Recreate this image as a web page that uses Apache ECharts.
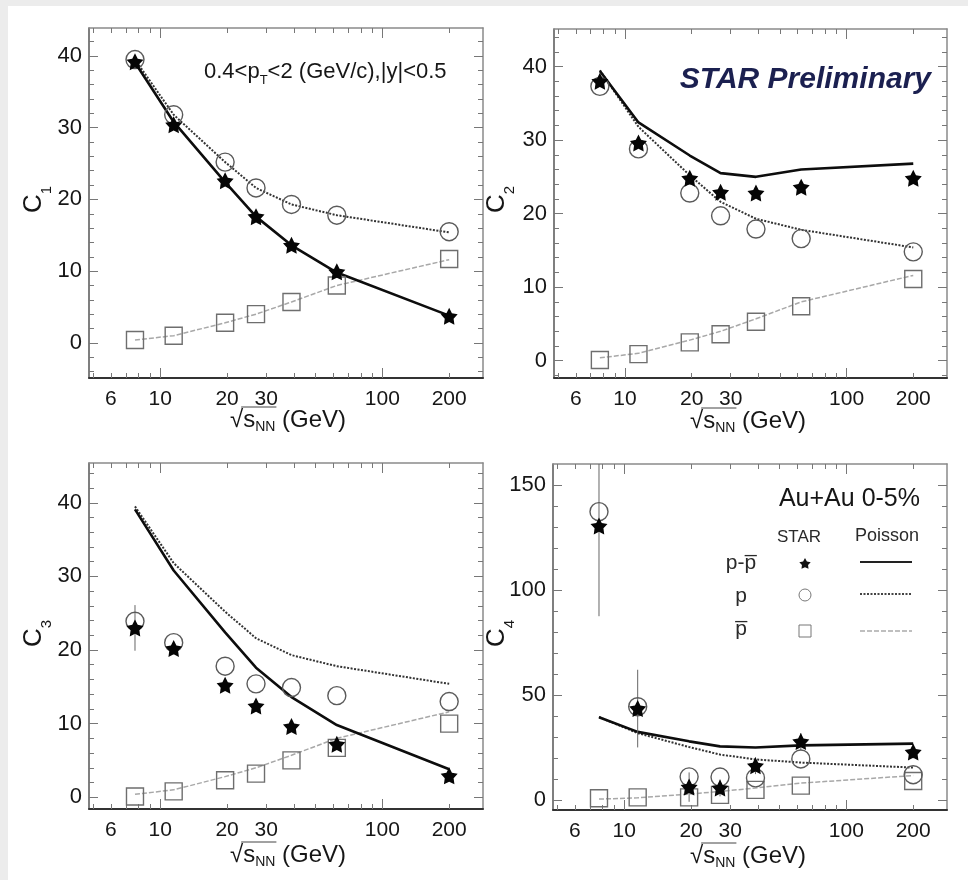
<!DOCTYPE html>
<html><head><meta charset="utf-8">
<script src="https://cdn.jsdelivr.net/npm/echarts@6/dist/echarts.min.js"></script>
<style>
html,body{margin:0;padding:0;background:#ececec;overflow:hidden;}
#card{position:absolute;left:8px;top:6px;width:960px;height:874px;background:#fff;}
#chart{position:absolute;left:0;top:0;width:968px;height:880px;}
</style></head><body>
<div id="card"></div><div id="chart"></div>
<script>
// ---------------- data ----------------
const energies = [7.7, 11.5, 19.6, 27, 39, 62.4, 200];
const xLabelValues = [6, 10, 20, 30, 100, 200];
const xMajorTickValues = [10, 100];
const xMinorTickValues = [5, 6, 7, 8, 9, 20, 30, 40, 50, 60, 70, 80, 90, 200];

const yLabelsC = [0, 10, 20, 30, 40];
const yMinorC = [-4, -2, 2, 4, 6, 8, 12, 14, 16, 18, 22, 24, 26, 28, 32, 34, 36, 38, 42, 44];
const yLabelsC4 = [0, 50, 100, 150];
const yMinorC4 = [10, 20, 30, 40, 60, 70, 80, 90, 110, 120, 130, 140];

const c1Net = [39.2, 30.4, 22.6, 17.6, 13.6, 9.9, 3.7];
const c1P = [39.5, 31.8, 25.2, 21.6, 19.3, 17.8, 15.5];
const c1Pbar = [0.4, 1.0, 2.8, 4.0, 5.7, 8.0, 11.7];

const c2Net = [38.0, 29.6, 24.8, 22.9, 22.8, 23.6, 24.8];
const c2P = [37.3, 28.8, 22.8, 19.7, 17.9, 16.6, 14.8];
const c2Pbar = [0.1, 0.9, 2.5, 3.6, 5.3, 7.4, 11.1];

const c3Net = [23.0, 20.2, 15.2, 12.4, 9.6, 7.2, 2.9];
const c3NetErr = [3.1, 0.8, 0.7, 0.6, 0.5, 0.5, 0.4];
const c3P = [23.9, 21.0, 17.8, 15.4, 14.9, 13.8, 13.0];
const c3Pbar = [0.1, 0.8, 2.3, 3.2, 5.0, 6.7, 10.0];

const c4Net = [130.5, 43.5, 6.1, 5.7, 16.3, 27.8, 22.8];
const c4NetErr = [43, 18.5, 7, 4, 4, 4, 3];
const c4P = [137.3, 44.4, 11.0, 10.9, 10.5, 19.5, 12.0];
const c4Pbar = [0.8, 1.2, 1.2, 2.4, 4.8, 6.8, 9.0];

const poissonNetOdd = [39.1, 30.8, 22.4, 17.6, 13.6, 9.8, 3.8];
const poissonNetEven = [39.4, 32.4, 27.9, 25.5, 25.0, 26.0, 26.8];
const poissonP = [39.5, 31.8, 25.2, 21.6, 19.3, 17.8, 15.4];
const poissonPbar = [0.4, 1.0, 2.8, 4.0, 5.7, 8.0, 11.6];

// ---------------- layout / style ----------------
const FONT = '"Liberation Sans", Arial, Helvetica, sans-serif';
const TXT = '#161616';
const X_MIN = 4.78, X_MAX = 284;

const panels = [
  {grid:{left:89, top:28, width:394, height:350}, yMin:-4.9, yMax:43.9, yLabels:yLabelsC, yMinor:yMinorC,
   net:c1Net, err:null, p:c1P, pbar:c1Pbar, pn:poissonNetOdd, sub:'1', nameX:230, nameY:420, cx:34, cy:213},
  {grid:{left:554, top:29, width:393, height:349}, yMin:-2.35, yMax:45.1, yLabels:yLabelsC, yMinor:yMinorC,
   net:c2Net, err:null, p:c2P, pbar:c2Pbar, pn:poissonNetEven, sub:'2', nameX:690, nameY:421, cx:497, cy:213},
  {grid:{left:89, top:463, width:394, height:346}, yMin:-1.6, yMax:45.4, yLabels:yLabelsC, yMinor:yMinorC,
   net:c3Net, err:c3NetErr, p:c3P, pbar:c3Pbar, pn:poissonNetOdd, sub:'3', nameX:230, nameY:855, cx:34, cy:647},
  {grid:{left:553, top:464, width:394, height:346}, yMin:-4.8, yMax:160, yLabels:yLabelsC4, yMinor:yMinorC4,
   net:c4Net, err:c4NetErr, p:c4P, pbar:c4Pbar, pn:poissonNetEven, sub:'4', nameX:690, nameY:856, cx:497, cy:647}
];

function starPoints(cx, cy, R, r) {
  const pts = [];
  for (let i = 0; i < 10; i++) {
    const a = -Math.PI / 2 + i * Math.PI / 5;
    const rad = i % 2 === 0 ? R : r;
    pts.push([cx + rad * Math.cos(a), cy + rad * Math.sin(a)]);
  }
  return pts;
}
const starPath = 'path://' + starPoints(10, 10, 10, 5.2).map((p, i) => (i ? 'L' : 'M') + p[0].toFixed(2) + ' ' + p[1].toFixed(2)).join(' ') + ' Z';

const mctx = document.createElement('canvas').getContext('2d');
function tw(text, size, style) {
  mctx.font = (style || '') + ' ' + size + 'px ' + FONT;
  return mctx.measureText(text).width;
}
function seq(parts, x, y, out) {
  let cx = x;
  parts.forEach(p => {
    out.push({type:'text', x:cx, y:y + (p.dy || 0), silent:true,
      style:{text:p.t, fontSize:p.size, fontFamily:FONT, fill:TXT, align:'left', verticalAlign:'middle'}});
    cx += tw(p.t, p.size);
  });
  return cx;
}

function xAxis(g, pos, labels, ticks, len, line) {
  return {type:'log', logBase:10, gridIndex:g, position:pos, min:X_MIN, max:X_MAX,
    axisLine:{show:line, onZero:false, lineStyle:{color: pos === 'bottom' ? '#333' : '#8a8a8a', width: pos === 'bottom' ? 2 : 1.5}},
    axisTick:{show:true, inside:true, length:len, customValues:ticks, lineStyle:{color:'#777', width:1}},
    axisLabel:{show:labels, customValues:xLabelValues, fontSize:21, color:TXT, fontFamily:FONT, margin:11},
    splitLine:{show:false}, minorTick:{show:false}, minorSplitLine:{show:false}};
}
function yAxis(g, pos, P, labels, ticks, len, line) {
  return {type:'value', gridIndex:g, position:pos, min:P.yMin, max:P.yMax,
    axisLine:{show:line, onZero:false, lineStyle:{color: pos === 'left' ? '#555' : '#8a8a8a', width:1.5}},
    axisTick:{show:true, inside:true, length:len, customValues:ticks, lineStyle:{color:'#777', width:1}},
    axisLabel:{show:labels, customValues:P.yLabels, fontSize:22, color:TXT, fontFamily:FONT, margin:7},
    splitLine:{show:false}, minorTick:{show:false}, minorSplitLine:{show:false}};
}

const grids = [], xAxes = [], yAxes = [], series = [], gfx = [];
const pts = arr => energies.map((e, k) => [e, arr[k]]);

panels.forEach((P, i) => {
  const gMain = grids.length; grids.push(Object.assign({}, P.grid));
  const gMinor = grids.length; grids.push(Object.assign({}, P.grid));
  const xb = xAxes.length;
  xAxes.push(xAxis(gMain, 'bottom', true, xMajorTickValues, 10, true));
  xAxes.push(xAxis(gMain, 'top', false, xMajorTickValues, 10, true));
  xAxes.push(xAxis(gMinor, 'bottom', false, xMinorTickValues, 5, false));
  xAxes.push(xAxis(gMinor, 'top', false, xMinorTickValues, 5, false));
  const yb = yAxes.length;
  yAxes.push(yAxis(gMain, 'left', P, true, P.yLabels, 9, true));
  yAxes.push(yAxis(gMain, 'right', P, false, P.yLabels, 9, true));
  yAxes.push(yAxis(gMinor, 'left', P, false, P.yMinor, 5, false));
  yAxes.push(yAxis(gMinor, 'right', P, false, P.yMinor, 5, false));

  const base = {xAxisIndex:xb, yAxisIndex:yb, silent:true, animation:false};
  series.push(Object.assign({type:'line', data:pts(poissonPbar), symbol:'none', z:2,
    lineStyle:{color:'#a8a8a8', width:1.5, type:[5, 2]}}, base));
  series.push(Object.assign({type:'line', data:pts(poissonP), symbol:'none', z:2,
    lineStyle:{color:'#333', width:2, type:[2, 1.5]}}, base));
  series.push(Object.assign({type:'line', data:pts(P.pn), symbol:'none', z:3,
    lineStyle:{color:'#0d0d0d', width:2.6}}, base));
  if (P.err) {
    series.push(Object.assign({type:'custom', clip:true, z:4,
      data:energies.map((e, k) => [e, P.net[k], P.err[k]]), encode:{x:0, y:1},
      renderItem:(params, api) => {
        const x = api.value(0), y = api.value(1), e = api.value(2);
        const a = api.coord([x, y - e]), b = api.coord([x, y + e]);
        return {type:'line', shape:{x1:a[0], y1:a[1], x2:b[0], y2:b[1]}, style:{stroke:'#666', lineWidth:1}};
      }}, base));
  }
  series.push(Object.assign({type:'scatter', data:pts(P.pbar), symbol:'rect', symbolSize:17, z:5,
    itemStyle:{color:'rgba(0,0,0,0)', borderColor:'#6e6e6e', borderWidth:1.4, opacity:1}}, base));
  series.push(Object.assign({type:'scatter', data:pts(P.p), symbol:'circle', symbolSize:18, z:6,
    itemStyle:{color:'rgba(0,0,0,0)', borderColor:'#5a5a5a', borderWidth:1.4, opacity:1}}, base));
  series.push(Object.assign({type:'scatter', data:pts(P.net), symbol:starPath, symbolSize:17, z:7,
    itemStyle:{color:'#050505', opacity:1}}, base));

  // y-axis title C_n (rotated)
  gfx.push({type:'group', x:P.cx, y:P.cy, rotation:Math.PI / 2, silent:true, children:[
    {type:'text', x:0, y:0, style:{text:'C', fontSize:26, fontFamily:FONT, fill:TXT, align:'left', verticalAlign:'middle'}},
    {type:'text', x:tw('C', 26), y:13, style:{text:P.sub, fontSize:15, fontFamily:FONT, fill:TXT, align:'left', verticalAlign:'middle'}}
  ]});
  // x-axis title sqrt(s_NN) (GeV)
  const sStart = P.nameX + tw('√', 24);
  const end = seq([{t:'√', size:24}, {t:'s', size:24}, {t:'NN', size:14, dy:7}], P.nameX, P.nameY, gfx);
  seq([{t:' (GeV)', size:24}], end, P.nameY, gfx);
  gfx.push({type:'line', silent:true, shape:{x1:sStart - 2, y1:P.nameY - 13, x2:end + 1, y2:P.nameY - 13},
    style:{stroke:'#444', lineWidth:1}});
});

// annotations
seq([{t:'0.4<p', size:22}, {t:'T', size:13, dy:8}, {t:'<2 (GeV/c),|y|<0.5', size:22}], 204, 72, gfx);
gfx.push({type:'text', x:931, y:80, silent:true, style:{text:'STAR Preliminary', fontSize:30, fontStyle:'italic', fontWeight:'bold',
  fontFamily:FONT, fill:'#1b2050', align:'right', verticalAlign:'middle',
  textShadowColor:'rgba(215,140,50,0.75)', textShadowOffsetX:-1, textShadowOffsetY:-1, textShadowBlur:0}});
gfx.push({type:'text', x:920, y:499, silent:true, style:{text:'Au+Au 0-5%', fontSize:25, fontFamily:FONT, fill:TXT, align:'right', verticalAlign:'middle'}});

// legend
const lg = (t, x, y, size) => gfx.push({type:'text', x:x, y:y, silent:true, style:{text:t, fontSize:size, fontFamily:FONT, fill:'#2a2a2a', align:'center', verticalAlign:'middle'}});
lg('STAR', 799, 537, 17);
lg('Poisson', 887, 536, 18);
lg('p-p\u0305', 741, 563, 21);
lg('p', 741, 596, 21);
lg('p\u0305', 741, 629, 21);
gfx.push({type:'polygon', silent:true, shape:{points:starPoints(805, 564, 6, 3.2)}, style:{fill:'#111'}});
gfx.push({type:'circle', silent:true, shape:{cx:805, cy:595, r:6}, style:{fill:'none', stroke:'#777', lineWidth:1}});
gfx.push({type:'rect', silent:true, shape:{x:799, y:625, width:12, height:12}, style:{fill:'none', stroke:'#777', lineWidth:1}});
gfx.push({type:'line', silent:true, shape:{x1:860, y1:562, x2:912, y2:562}, style:{stroke:'#222', lineWidth:2}});
gfx.push({type:'line', silent:true, shape:{x1:860, y1:594, x2:912, y2:594}, style:{stroke:'#444', lineWidth:2, lineDash:[2, 1.5]}});
gfx.push({type:'line', silent:true, shape:{x1:860, y1:631, x2:912, y2:631}, style:{stroke:'#aaa', lineWidth:1.5, lineDash:[5, 2]}});

const chart = echarts.init(document.getElementById('chart'), null, {renderer:'canvas'});
chart.setOption({
  animation:false,
  backgroundColor:'transparent',
  grid:grids, xAxis:xAxes, yAxis:yAxes, series:series,
  graphic:{elements:gfx}
});
</script>
</body></html>
